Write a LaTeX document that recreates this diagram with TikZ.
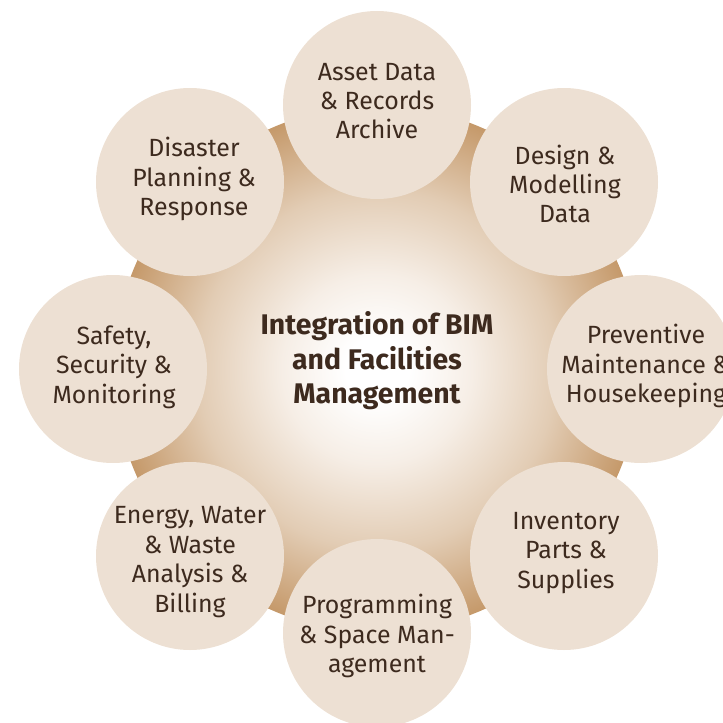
\documentclass[tikz,border=0pt]{standalone}
\usepackage{fontspec}
\setmainfont{Fira Sans}
\definecolor{bubfill}{RGB}{237,224,211}
\definecolor{tanedge}{RGB}{197,153,106}
\definecolor{tanmid}{RGB}{226,204,180}
\definecolor{tanlight}{RGB}{246,238,230}
\definecolor{txtcol}{RGB}{61,42,30}
\pgfdeclareradialshading{hubshade}{\pgfpoint{0bp}{0bp}}{color(0bp)=(white); color(3bp)=(white); color(9bp)=(tanlight); color(17bp)=(tanmid); color(25bp)=(tanedge); color(50bp)=(tanedge)}
\begin{document}
\begin{tikzpicture}[x=1bp,y=-1bp,
  bub/.style={circle, fill=bubfill, minimum size=188bp, inner sep=0pt},
  txt/.style={align=center, text=txtcol, inner sep=0pt, font=\fontsize{25}{29.5}\selectfont},
  hubtxt/.style={align=center, text=txtcol, inner sep=0pt, font=\bfseries\fontsize{28.5}{34.5}\selectfont}]
\useasboundingbox (0,0) rectangle (723,723);
\clip (0,0) rectangle (723,723);
\node[circle, minimum size=526bp, inner sep=0pt, shading=hubshade] (hub) at (377,369) {};
\node[bub] (asset) at (377,105) {};
\node[bub] (design) at (564,182) {};
\node[bub] (prev) at (641,369) {};
\node[bub] (inv) at (564,556) {};
\node[bub] (prog) at (377,633) {};
\node[bub] (energy) at (190,556) {};
\node[bub] (safety) at (113,369) {};
\node[bub] (disaster) at (190,182) {};
\node[hubtxt] (title) at (377,361) {Integration of BIM\\and Facilities\\Management};
\node[txt] (assetT) at (377,101) {Asset Data\\\& Records\\Archive};
\node[txt] (designT) at (565,184) {Design \&\\Modelling\\Data};
\node[txt] (prevT) at (646,366) {Preventive\\Maintenance \&\\Housekeeping};
\node[txt] (invT) at (566,553) {Inventory\\Parts \&\\Supplies};
\node[txt] (progT) at (377,636) {Programming\\\& Space Man-\\agement};
\node[txt] (energyT) at (190,562) {Energy, Water\\\& Waste\\Analysis \&\\Billing};
\node[txt] (safetyT) at (114,367) {Safety,\\Security \&\\Monitoring};
\node[txt] (disasterT) at (194,179) {Disaster\\Planning \&\\Response};
\end{tikzpicture}
\end{document}
